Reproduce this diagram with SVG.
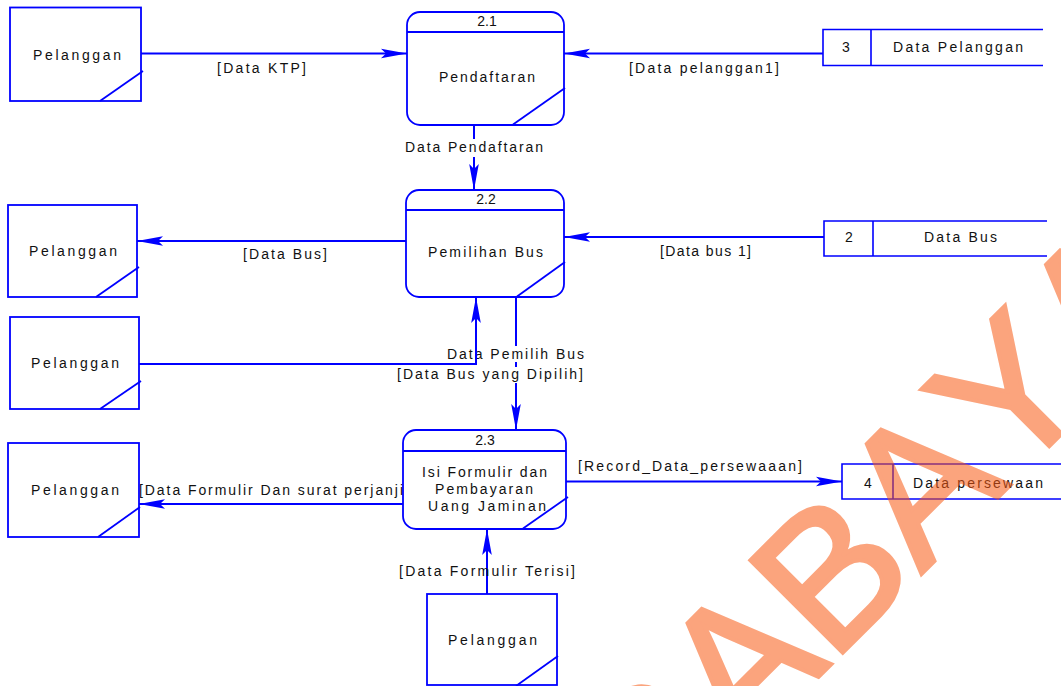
<svg xmlns="http://www.w3.org/2000/svg" width="1061" height="686" viewBox="0 0 1061 686">
  <style>
    text { font-family: "Liberation Sans", Arial, sans-serif; font-size: 14px; fill: #111; }
    .box { fill: #fff; stroke: #0000ff; stroke-width: 1.8; }
    .edge { fill: none; stroke: #0000ff; stroke-width: 1.8; }
    .store { fill: none; stroke: #0000ff; stroke-width: 1.6; }
    .flow { fill: none; stroke: #0000ff; stroke-width: 2; }
    .bg { fill: #fff; }
    .mark { font-size: 190px; fill: #f85a14; stroke: #f85a14; stroke-width: 4; stroke-linejoin: miter; opacity: 0.55; font-kerning: none; }
  </style>
  <defs>
    <marker id="arrow" markerUnits="userSpaceOnUse" viewBox="-27 -6 28 12" markerWidth="28" markerHeight="12" refX="0" refY="0" orient="auto">
      <path d="M0,0 L-26,-4.8 L-21,0 L-26,4.8 Z" fill="#0000ff"/>
    </marker>
  </defs>
  <rect width="1061" height="686" fill="#fff"/>

  <!-- data flows; a label's white backing hides lines drawn before it -->
  <g id="connectors">
    <path class="flow" d="M141,53.5 H407" marker-end="url(#arrow)"/>
    <text x="217" y="73" textLength="89">[Data KTP]</text>

    <path class="flow" d="M823,53.5 H564" marker-end="url(#arrow)"/>
    <text x="629" y="73" textLength="150">[Data pelanggan1]</text>

    <path class="flow" d="M474,125 V190" marker-end="url(#arrow)"/>
    <rect class="bg" x="403" y="139" width="142" height="18"/>
    <text x="405" y="152" textLength="138">Data Pendaftaran</text>

    <path class="flow" d="M406,241 H137" marker-end="url(#arrow)"/>
    <text x="243" y="259" textLength="84">[Data Bus]</text>

    <path class="flow" d="M824,237 H564" marker-end="url(#arrow)"/>
    <text x="660" y="256" textLength="91">[Data bus 1]</text>

    <path class="flow" d="M516,297 V430" marker-end="url(#arrow)"/>
    <rect class="bg" x="445" y="346" width="141" height="16"/>
    <text x="447" y="359" textLength="137">Data Pemilih Bus</text>

    <path class="flow" d="M139,364 H476 V297" marker-end="url(#arrow)"/>
    <rect class="bg" x="395" y="367" width="190" height="16"/>
    <text x="397" y="379" textLength="186">[Data Bus yang Dipilih]</text>

    <path class="flow" d="M403,504 H139" marker-end="url(#arrow)"/>
    <text x="139" y="495" textLength="264">[Data Formulir Dan surat perjanji</text>

    <path class="flow" d="M566,481.5 H842" marker-end="url(#arrow)"/>
    <text x="578" y="471" textLength="224">[Record_Data_persewaaan]</text>

    <path class="flow" d="M487,594 V529" marker-end="url(#arrow)"/>
    <text x="399" y="576" textLength="176">[Data Formulir Terisi]</text>
  </g>

  <!-- external entities -->
  <g id="pelanggan-1">
    <rect class="box" x="10" y="7.5" width="131" height="93.5"/>
    <line class="edge" x1="100" y1="101" x2="143" y2="71"/>
    <text x="33" y="60" textLength="88">Pelanggan</text>
  </g>
  <g id="pelanggan-2">
    <rect class="box" x="8" y="205" width="129" height="92"/>
    <line class="edge" x1="96" y1="297" x2="139" y2="267"/>
    <text x="29" y="256" textLength="88">Pelanggan</text>
  </g>
  <g id="pelanggan-3">
    <rect class="box" x="10" y="317" width="129" height="92"/>
    <line class="edge" x1="100" y1="409" x2="141" y2="381"/>
    <text x="31" y="368" textLength="88">Pelanggan</text>
  </g>
  <g id="pelanggan-4">
    <rect class="box" x="8" y="443" width="131" height="94"/>
    <line class="edge" x1="98" y1="537" x2="140" y2="507"/>
    <text x="31" y="495" textLength="88">Pelanggan</text>
  </g>
  <g id="pelanggan-5">
    <rect class="box" x="427" y="594" width="130" height="91"/>
    <line class="edge" x1="516" y1="686" x2="558" y2="656"/>
    <text x="448" y="645" textLength="89">Pelanggan</text>
  </g>

  <!-- processes -->
  <g id="proses-2-1">
    <rect class="box" x="407" y="12" width="157" height="113" rx="13"/>
    <line class="edge" x1="407" y1="32" x2="564" y2="32"/>
    <line class="edge" x1="513" y1="124.5" x2="565" y2="88"/>
    <text x="487" y="26" text-anchor="middle">2.1</text>
    <text x="439" y="82" textLength="96">Pendaftaran</text>
  </g>
  <g id="proses-2-2">
    <rect class="box" x="406" y="190" width="158" height="107" rx="13"/>
    <line class="edge" x1="406" y1="210" x2="564" y2="210"/>
    <line class="edge" x1="517" y1="296.5" x2="565" y2="262"/>
    <text x="486" y="204" text-anchor="middle">2.2</text>
    <text x="428" y="257" textLength="115">Pemilihan Bus</text>
  </g>
  <g id="proses-2-3">
    <rect class="box" x="403" y="430" width="163" height="99" rx="13"/>
    <line class="edge" x1="403" y1="451" x2="566" y2="451"/>
    <line class="edge" x1="523" y1="528.5" x2="568" y2="497"/>
    <text x="485" y="445" text-anchor="middle">2.3</text>
    <text x="422" y="477" textLength="125">Isi Formulir dan</text>
    <text x="435" y="494" textLength="98">Pembayaran</text>
    <text x="428" y="511" textLength="118">Uang Jaminan</text>
  </g>

  <!-- data stores -->
  <g id="store-3">
    <path class="store" d="M1043,29.5 H823 V65.5 H1043 M871,29.5 V65.5"/>
    <text x="846" y="52" text-anchor="middle">3</text>
    <text x="893" y="52" textLength="130">Data Pelanggan</text>
  </g>
  <g id="store-2">
    <path class="store" d="M1047,221 H824 V256 H1047 M873,221 V256"/>
    <text x="849" y="242" text-anchor="middle">2</text>
    <text x="924" y="242" textLength="73">Data Bus</text>
  </g>
  <g id="store-4">
    <path class="store" d="M1062,464 H842 V499 H1062 M893,464 V499"/>
    <text x="868" y="488" text-anchor="middle">4</text>
    <text x="913" y="488" textLength="130">Data persewaan</text>
  </g>

  <!-- watermark -->
  <text class="mark" transform="translate(645,850.5) rotate(-45)">RABAYA</text>
</svg>
